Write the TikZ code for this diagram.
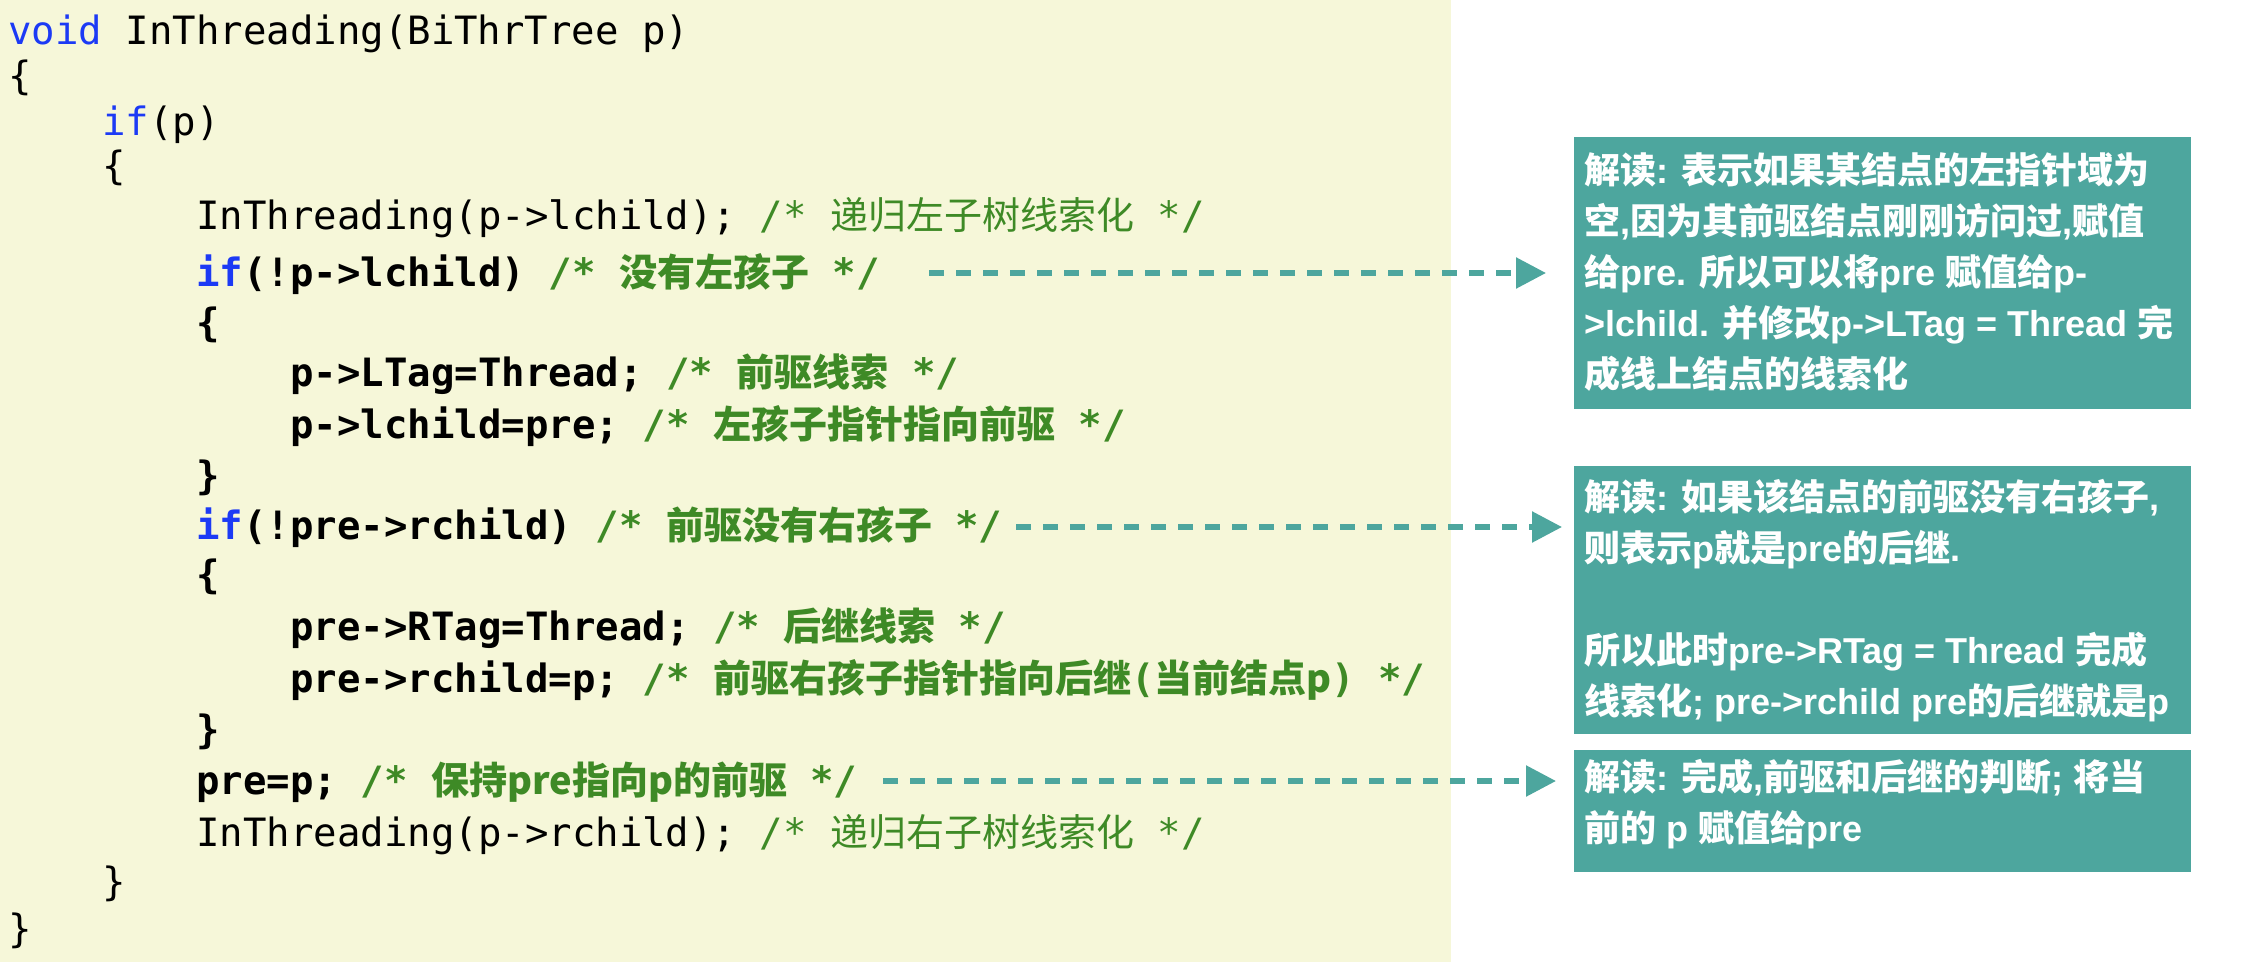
\documentclass[tikz,border=0pt]{standalone}
\usepackage{fontspec}
\usetikzlibrary{arrows.meta}
\newfontfamily\codefont{DejaVu Sans Mono}
\newfontfamily\zhfont{Noto Sans CJK SC}
\newfontfamily\latfont{Liberation Sans}
\definecolor{kwblue}{RGB}{28,58,245}
\definecolor{cmtgreen}{RGB}{62,138,38}
\definecolor{codebg}{RGB}{246,247,217}
\definecolor{noteteal}{RGB}{77,166,158}
\newcommand\zc[1]{{\zhfont\fontsize{19pt}{24pt}\selectfont #1}}
\newcommand\zb[1]{{\zhfont #1}}
\newcommand\kw[1]{\textcolor{kwblue}{#1}}
\newcommand\cm[1]{\textcolor{cmtgreen}{#1}}
\lineskiplimit=-100pt
\lineskip=0pt
\begin{document}
\begin{tikzpicture}[x=0.5pt,y=-0.5pt,
  codeline/.style={anchor=base west, inner sep=0pt, font=\codefont\fontsize{19.5pt}{24pt}\selectfont},
  codebold/.style={anchor=base west, inner sep=0pt, font=\codefont\fontsize{19.5pt}{24pt}\selectfont\bfseries},
  notebox/.style={fill=noteteal, draw=none, anchor=north west, inner sep=0pt, minimum width=308.5pt},
  notetext/.style={anchor=base west, inner sep=0pt, text=white, align=left, font=\latfont\fontsize{18pt}{25.5pt}\selectfont\bfseries},
  darrow/.style={draw=noteteal, line width=2.75pt, dash pattern=on 7.5pt off 6pt, -{Triangle[length=15pt,width=15pt]}}]
\useasboundingbox (0,0) rectangle (2258,968);
\fill[white] (0,0) rectangle (2258,968);
\fill[codebg] (0,0) rectangle (1451,962);
% code
\node[codeline] (l1) at (8,45) {\kw{void} InThreading(BiThrTree p)};
\node[codeline] (l2) at (8,90) {\{};
\node[codeline] (l3) at (102,136) {\kw{if}(p)};
\node[codeline] (l4) at (102,180) {\{};
\node[codeline] (l5) at (196,230) {InThreading(p->lchild); \cm{/* \zc{递归左子树线索化} */}};
\node[codebold] (l6) at (196,286) {\kw{if}(!p->lchild) \cm{/* \zc{没有左孩子} */}};
\node[codebold] (l7) at (196,336) {\{};
\node[codebold] (l8) at (290,386) {p->LTag=Thread; \cm{/* \zc{前驱线索} */}};
\node[codebold] (l9) at (290,438) {p->lchild=pre; \cm{/* \zc{左孩子指针指向前驱} */}};
\node[codebold] (l10) at (196,489) {\}};
\node[codebold] (l11) at (196,539) {\kw{if}(!pre->rchild) \cm{/* \zc{前驱没有右孩子} */}};
\node[codebold] (l12) at (196,588) {\{};
\node[codebold] (l13) at (290,640) {pre->RTag=Thread; \cm{/* \zc{后继线索} */}};
\node[codebold] (l14) at (290,692) {pre->rchild=p; \cm{/* \zc{前驱右孩子指针指向后继}(\zc{当前结点p}) */}};
\node[codebold] (l15) at (196,743) {\}};
\node[codebold] (l16) at (196,794) {pre=p; \cm{/* \zc{保持pre指向p的前驱} */}};
\node[codeline] (l17) at (196,846) {InThreading(p->rchild); \cm{/* \zc{递归右子树线索化} */}};
\node[codeline] (l18) at (102,895) {\}};
\node[codeline] (l19) at (8,942) {\}};
% note boxes
\node[notebox, minimum height=136pt] (b1) at (1574,137) {};
\node[notebox, minimum height=134pt] (b2) at (1574,466) {};
\node[notebox, minimum height=61pt] (b3) at (1574,750) {};
\node[notetext] (t1) at (1584,387) {\zb{解读}: \zb{表示如果某结点的左指针域为}\\
  \zb{空},\zb{因为其前驱结点刚刚访问过},\zb{赋值}\\
  \zb{给}pre. \zb{所以可以将}pre \zb{赋值给}p-\\
  >lchild. \zb{并修改}p->LTag = Thread \zb{完}\\
  \zb{成线上结点的线索化}};
\node[notetext] (t2) at (1584,714) {\zb{解读}: \zb{如果该结点的前驱没有右孩子},\\
  \zb{则表示}p\zb{就是}pre\zb{的后继}.\\
  \mbox{}\\
  \zb{所以此时}pre->RTag = Thread \zb{完成}\\
  \zb{线索化}; pre->rchild pre\zb{的后继就是}p};
\node[notetext] (t3) at (1584,841) {\zb{解读}: \zb{完成},\zb{前驱和后继的判断}; \zb{将当}\\
  \zb{前的} p \zb{赋值给}pre};
% arrows
\coordinate (a1) at (929,273);
\coordinate (a2) at (1016,527);
\coordinate (a3) at (883,781);
\draw[darrow, shorten >=14pt] (a1) -- (a1 -| b1.west);
\draw[darrow, shorten >=6pt] (a2) -- (a2 -| b2.west);
\draw[darrow, shorten >=9pt] (a3) -- (a3 -| b3.west);
\end{tikzpicture}
\end{document}
